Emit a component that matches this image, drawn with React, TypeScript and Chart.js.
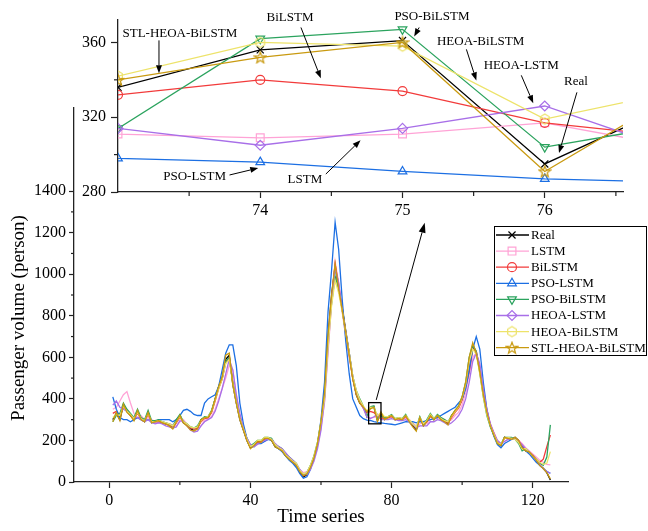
import React, { useEffect, useRef } from 'react';
import { Chart, registerables } from 'chart.js';
import { drawPoint } from 'chart.js/helpers';

Chart.register(...registerables);

const FONT = "'Liberation Serif', 'Times New Roman', Times, serif";

// x categories: time step index 1..125
const timeIndex: number[] = Array.from({ length: 125 }, (_, i) => i + 1);

const seriesNames = ['Real', 'LSTM', 'BiLSTM', 'PSO-LSTM', 'PSO-BiLSTM', 'HEOA-LSTM', 'HEOA-BiLSTM', 'STL-HEOA-BiLSTM'];
const seriesColors = ['#000000', '#FFA3D6', '#F23B3B', '#1C6FE3', '#2BA35E', '#A86FE8', '#EDE36A', '#C99A10'];

const realValues = [
  300, 330, 300, 370, 340, 320, 300, 340, 300, 290,
  335, 285, 290, 295, 285, 280, 275, 260, 290, 320,
  285, 275, 255, 250, 260, 300, 310, 310, 340, 400,
  460, 500, 590, 610, 470, 380, 300, 250, 200, 165,
  175, 195, 190, 210, 210, 200, 170, 160, 150, 125,
  110, 95, 80, 45, 25, 35, 70, 120, 180, 280,
  420, 700, 900, 1040, 930, 840, 730, 620, 500, 420,
  380, 360, 336, 356, 361, 295, 330, 300, 310, 320,
  300, 305, 300, 320, 290, 270, 250, 310, 270, 290,
  320, 300, 320, 300, 290, 280, 320, 340, 360, 400,
  460, 540, 650, 620, 540, 430, 340, 270, 230, 190,
  175, 215, 210, 205, 215, 200, 170, 150, 145, 125,
  105, 80, 65, 45, 10,
];
const lstmValues = [
  350, 360, 390, 420, 435, 380, 330, 310, 320, 300,
  310, 300, 290, 285, 290, 285, 280, 275, 270, 290,
  300, 280, 265, 255, 255, 270, 295, 305, 315, 350,
  400, 450, 500, 560, 540, 420, 320, 260, 210, 180,
  170, 180, 190, 195, 205, 205, 185, 165, 155, 140,
  120, 100, 80, 60, 45, 50, 75, 120, 170, 260,
  380, 620, 860, 1060, 960, 820, 700, 600, 500, 430,
  390, 355, 311, 309, 311, 317, 303, 305, 305, 310,
  305, 300, 305, 305, 300, 285, 270, 280, 285, 280,
  300, 305, 305, 310, 300, 290, 300, 320, 335, 370,
  430, 520, 600, 620, 560, 450, 350, 280, 240, 200,
  185, 195, 205, 210, 205, 200, 185, 165, 150, 135,
  120, 105, 95, 85, 82,
];
const bilstmValues = [
  330, 340, 320, 360, 345, 325, 305, 330, 305, 295,
  325, 290, 290, 290, 285, 280, 275, 265, 285, 310,
  290, 275, 260, 255, 260, 290, 305, 310, 335, 390,
  450, 495, 575, 600, 480, 390, 310, 255, 205, 170,
  175, 190, 195, 205, 210, 205, 180, 165, 150, 130,
  115, 95, 80, 50, 30, 38, 70, 115, 180, 285,
  410, 680, 880, 1050, 950, 830, 720, 610, 500, 425,
  385, 355, 332, 340, 334, 317, 309, 305, 310, 315,
  305, 305, 300, 315, 295, 275, 260, 300, 280, 290,
  315, 305, 315, 305, 295, 285, 310, 335, 355, 395,
  455, 530, 640, 630, 545, 440, 345, 275, 235, 195,
  180, 210, 210, 205, 210, 200, 175, 155, 145, 130,
  110, 95, 110, 170, 226,
];
const psoLstmValues = [
  410, 350, 310, 300, 300, 290, 300, 310, 300, 295,
  300, 295, 290, 300, 300, 300, 300, 290, 300, 320,
  345, 350, 340, 325, 320, 320, 380, 400, 410, 420,
  460, 540, 620, 660, 660, 560, 380, 280, 210, 175,
  170, 185, 185, 195, 205, 200, 175, 160, 145, 125,
  105, 90, 70, 40, 18, 25, 60, 115, 180, 300,
  480, 820, 1020, 1250, 1120, 880, 680, 520, 400, 360,
  320, 305, 298, 296, 291, 287, 285, 282, 280, 278,
  275, 280, 285, 290, 290, 290, 285, 290, 290, 295,
  300, 305, 310, 320, 330, 340, 350, 360, 380, 400,
  450, 540, 640, 700, 640, 480, 350, 270, 220, 180,
  165, 185, 195, 205, 205, 195, 170, 150, 135, 115,
  95, 80, 65, 50, 42,
];
const psoBilstmValues = [
  290, 320, 330, 380, 350, 330, 310, 350, 310, 300,
  345, 295, 295, 300, 290, 285, 280, 270, 300, 325,
  290, 280, 265, 260, 270, 300, 315, 315, 345, 400,
  455, 500, 580, 600, 480, 390, 310, 260, 210, 175,
  185, 200, 200, 215, 215, 210, 180, 170, 160, 135,
  120, 105, 90, 55, 35, 45, 80, 125, 190, 290,
  410, 690, 860, 990, 930, 830, 720, 620, 510, 440,
  400, 365, 314, 362, 367, 304, 317, 310, 315, 325,
  305, 310, 305, 325, 295, 280, 260, 315, 275, 300,
  330, 305, 325, 310, 300, 290, 320, 345, 365, 410,
  480, 600, 660, 630, 525, 410, 320, 265, 225, 185,
  180, 215, 215, 215, 205, 185, 150, 160, 145, 125,
  110, 90, 80, 120, 275,
];
const heoaLstmValues = [
  370, 390, 360, 350, 340, 320, 310, 310, 300, 290,
  300, 285, 280, 285, 280, 270, 265, 260, 265, 295,
  290, 270, 250, 240, 245, 270, 290, 300, 310, 340,
  390, 450, 520, 590, 540, 420, 330, 260, 210, 180,
  170, 185, 190, 200, 205, 205, 185, 170, 160, 140,
  120, 105, 90, 60, 40, 35, 60, 100, 160, 250,
  390, 640, 870, 1030, 960, 830, 720, 620, 510, 435,
  390, 355, 314, 305, 314, 326, 300, 300, 300, 305,
  300, 295, 295, 300, 290, 280, 260, 270, 270, 270,
  290, 290, 300, 295, 285, 275, 285, 300, 320, 350,
  400, 480, 580, 620, 570, 450, 350, 280, 235, 200,
  185, 195, 205, 210, 205, 195, 180, 160, 145, 125,
  105, 85, 65, 50, 42,
];
const heoaBilstmValues = [
  310, 325, 320, 365, 340, 325, 305, 335, 305, 295,
  330, 290, 290, 295, 290, 285, 280, 270, 290, 315,
  290, 280, 265, 260, 265, 295, 310, 315, 340, 395,
  450, 495, 570, 590, 475, 385, 305, 255, 205, 170,
  180, 200, 200, 215, 215, 205, 180, 165, 155, 130,
  115, 100, 90, 55, 40, 45, 80, 125, 190, 290,
  400, 650, 850, 970, 910, 820, 720, 620, 510, 440,
  395, 365, 342, 360, 358, 319, 335, 315, 315, 320,
  305, 310, 305, 320, 300, 280, 265, 310, 280, 295,
  325, 305, 320, 305, 295, 290, 315, 340, 360, 405,
  470, 580, 640, 615, 520, 410, 325, 270, 230, 190,
  180, 210, 215, 210, 205, 190, 160, 160, 145, 125,
  110, 95, 85, 90, 146,
];
const stlHeoaBilstmValues = [
  290, 335, 295, 375, 335, 320, 295, 345, 300, 290,
  335, 285, 290, 295, 285, 280, 270, 255, 290, 320,
  285, 270, 250, 245, 255, 300, 310, 310, 340, 400,
  460, 505, 610, 620, 470, 380, 300, 250, 200, 160,
  175, 195, 190, 210, 210, 200, 170, 160, 150, 125,
  110, 95, 80, 50, 30, 38, 70, 115, 185, 290,
  430, 710, 900, 1050, 930, 830, 720, 610, 495, 420,
  380, 360, 340, 352, 360, 291, 336, 300, 310, 320,
  300, 305, 300, 320, 290, 265, 245, 310, 270, 290,
  320, 300, 320, 300, 290, 275, 320, 345, 365, 410,
  480, 600, 670, 620, 530, 420, 335, 270, 225, 185,
  175, 215, 210, 205, 215, 200, 165, 150, 145, 125,
  105, 80, 65, 45, 15,
];
const seriesValues = [realValues, lstmValues, bilstmValues, psoLstmValues, psoBilstmValues, heoaLstmValues, heoaBilstmValues, stlHeoaBilstmValues];

// axis ticks
const mainXTicks = [0, 40, 80, 120];
const mainXMinor = [20, 60, 100];
const mainYTicks = [0, 200, 400, 600, 800, 1000, 1200, 1400];
const mainYMinor = [100, 300, 500, 700, 900, 1100, 1300];
const insetXTicks = [74, 75, 76];
const insetXMinor = [73.5, 74.5, 75.5, 76.5];
const insetYTicks = [280, 320, 360];
const insetYMinor = [300, 340];

// inset annotations (data coordinates of the inset)
const insetLabels = ['STL-HEOA-BiLSTM', 'BiLSTM', 'PSO-BiLSTM', 'HEOA-BiLSTM', 'HEOA-LSTM', 'Real', 'PSO-LSTM', 'LSTM'];
const insetLabelX = [73.435, 74.209, 75.207, 75.549, 75.835, 76.219, 73.539, 74.314];
const insetLabelY = [364.8, 373.3, 373.9, 360.5, 347.7, 339.2, 288, 286.4];
const arrowFromX = [73.288, 74.286, 75.117, 75.449, 75.835, 76.226, 73.784, 74.461];
const arrowFromY = [361.1, 368, 368, 356.3, 342.4, 333.3, 289.1, 289.6];
const arrowToX = [73.288, 74.426, 75.082, 75.519, 75.919, 76.1, 73.986, 74.705];
const arrowToY = [343.5, 340.8, 363.2, 339.7, 327.5, 300.8, 292.8, 307.7];

// zoom box on main chart
const zoomBoxX = [73.5, 77];
const zoomBoxY = [280, 382];
const pointerFrom = [75.65, 395];
const pointerTo = [89.4, 1248];

function drawArrow(ctx: CanvasRenderingContext2D, x1: number, y1: number, x2: number, y2: number, head = 8, half = 3) {
  const ang = Math.atan2(y2 - y1, x2 - x1);
  const bx = x2 - head * Math.cos(ang);
  const by = y2 - head * Math.sin(ang);
  ctx.beginPath();
  ctx.moveTo(x1, y1);
  ctx.lineTo(bx, by);
  ctx.stroke();
  ctx.beginPath();
  ctx.moveTo(x2, y2);
  ctx.lineTo(bx + half * Math.sin(ang), by - half * Math.cos(ang));
  ctx.lineTo(bx - half * Math.sin(ang), by + half * Math.cos(ang));
  ctx.closePath();
  ctx.fill();
}

function makeShape(kind: 'hex' | 'star', color: string): HTMLCanvasElement {
  const c = document.createElement('canvas');
  c.width = 14;
  c.height = 14;
  const g = c.getContext('2d')!;
  g.strokeStyle = color;
  g.lineWidth = 1.2;
  g.beginPath();
  if (kind === 'hex') {
    for (let i = 0; i < 6; i++) {
      const a = Math.PI / 6 + (i * Math.PI) / 3;
      const x = 7 + 5 * Math.cos(a);
      const y = 7 + 5 * Math.sin(a);
      if (i === 0) g.moveTo(x, y); else g.lineTo(x, y);
    }
  } else {
    for (let i = 0; i < 10; i++) {
      const r = i % 2 === 0 ? 6 : 2.5;
      const a = -Math.PI / 2 + (i * Math.PI) / 5;
      const x = 7 + r * Math.cos(a);
      const y = 7.5 + r * Math.sin(a);
      if (i === 0) g.moveTo(x, y); else g.lineTo(x, y);
    }
  }
  g.closePath();
  g.stroke();
  return c;
}

function filterTicks(list: number[]) {
  return (s: any) => {
    s.ticks = list.map((v) => ({ value: v }));
  };
}

function plainLabel(v: any) {
  return String(v);
}

function drawMinor(chart: any, axis: 'x' | 'y', values: number[], len: number) {
  const ctx = chart.ctx as CanvasRenderingContext2D;
  const area = chart.chartArea;
  const sc = chart.scales[axis];
  ctx.save();
  ctx.strokeStyle = '#222';
  ctx.lineWidth = 1.2;
  values.forEach((v) => {
    const p = sc.getPixelForValue(v);
    ctx.beginPath();
    if (axis === 'x') {
      ctx.moveTo(p, area.bottom);
      ctx.lineTo(p, area.bottom + len);
    } else {
      ctx.moveTo(area.left, p);
      ctx.lineTo(area.left - len, p);
    }
    ctx.stroke();
  });
  ctx.restore();
}

export default function App() {
  const mainRef = useRef<HTMLCanvasElement>(null);
  const insetRef = useRef<HTMLCanvasElement>(null);

  useEffect(() => {
    const hexImg = makeShape('hex', seriesColors[6]);
    const starImg = makeShape('star', seriesColors[7]);
    const pointStyles: any[] = ['crossRot', 'rect', 'circle', 'triangle', 'triangle', 'rectRot', hexImg, starImg];
    const pointRotations = [0, 0, 0, 0, 180, 0, 0, 0];
    const pointRadii = [5, 5.5, 4.5, 5, 5, 5, 6, 6];

    const axisFont = { family: FONT, size: 16 };

    const mainPlugin = {
      id: 'mainDecor',
      afterDraw(chart: any) {
        const ctx = chart.ctx as CanvasRenderingContext2D;
        const xs = chart.scales.x;
        const ys = chart.scales.y;
        drawMinor(chart, 'x', mainXMinor, 3);
        drawMinor(chart, 'y', mainYMinor, 3);
        ctx.save();
        // zoom box
        ctx.strokeStyle = '#000';
        ctx.lineWidth = 1.3;
        const bx1 = xs.getPixelForValue(zoomBoxX[0]);
        const bx2 = xs.getPixelForValue(zoomBoxX[1]);
        const by1 = ys.getPixelForValue(zoomBoxY[1]);
        const by2 = ys.getPixelForValue(zoomBoxY[0]);
        ctx.strokeRect(bx1, by1, bx2 - bx1, by2 - by1);
        ctx.fillStyle = '#000';
        ctx.lineWidth = 1;
        drawArrow(ctx, xs.getPixelForValue(pointerFrom[0]), ys.getPixelForValue(pointerFrom[1]),
          xs.getPixelForValue(pointerTo[0]), ys.getPixelForValue(pointerTo[1]), 10, 3.5);
        // legend
        const lx = 494, ly = 226, lw = 153, lh = 130;
        ctx.fillStyle = '#fff';
        ctx.fillRect(lx, ly, lw, lh);
        ctx.strokeStyle = '#000';
        ctx.lineWidth = 1;
        ctx.strokeRect(lx + 0.5, ly + 0.5, lw - 1, lh - 1);
        seriesNames.forEach((name, i) => {
          const cy = 235 + i * 16.1;
          ctx.strokeStyle = seriesColors[i];
          ctx.lineWidth = 1.3;
          ctx.beginPath();
          ctx.moveTo(496, cy);
          ctx.lineTo(529, cy);
          ctx.stroke();
          ctx.fillStyle = 'rgba(0,0,0,0)';
          ctx.lineWidth = 1.2;
          drawPoint(ctx, { pointStyle: pointStyles[i], radius: pointRadii[i], rotation: pointRotations[i], borderWidth: 1.2 } as any, 512, cy);
          ctx.fillStyle = '#000';
          ctx.font = `13px ${FONT}`;
          ctx.textAlign = 'left';
          ctx.textBaseline = 'middle';
          ctx.fillText(name, 531, cy + 0.5);
        });
        // y title
        ctx.translate(19, 318);
        ctx.rotate(-Math.PI / 2);
        ctx.font = `19px ${FONT}`;
        ctx.textAlign = 'center';
        ctx.textBaseline = 'middle';
        ctx.fillStyle = '#000';
        ctx.fillText('Passenger volume (person)', 0, 0);
        ctx.restore();
      },
    };

    const mainChart = new Chart(mainRef.current!, {
      type: 'line',
      data: {
        datasets: seriesNames.map((name, i) => ({
          label: name,
          data: timeIndex.map((t, k) => ({ x: t, y: seriesValues[i][k] })),
          borderColor: seriesColors[i],
          backgroundColor: seriesColors[i],
          borderWidth: 1.3,
          pointRadius: 0,
          fill: false,
          tension: 0,
          order: seriesNames.length - 1 - i,
        })),
      },
      options: {
        responsive: false,
        animation: false,
        events: [],
        layout: { padding: { left: 0, top: 108, right: 80, bottom: 0 } },
        plugins: { legend: { display: false }, tooltip: { enabled: false } },
        scales: {
          x: {
            type: 'linear',
            min: -10,
            max: 130,
            afterBuildTicks: filterTicks(mainXTicks),
            afterFit: (s: any) => { s.height = 49; },
            ticks: { font: axisFont, color: '#000', padding: 3, maxRotation: 0, autoSkip: false, callback: plainLabel },
            grid: { drawOnChartArea: false, drawTicks: true, tickLength: 6, tickColor: '#222', tickWidth: 1.2 },
            border: { display: true, color: '#222', width: 1.3 },
            title: { display: true, text: 'Time series', font: { family: FONT, size: 19 }, color: '#000', padding: { top: 0, bottom: 3 } },
          },
          y: {
            type: 'linear',
            min: 0,
            max: 1800,
            afterBuildTicks: filterTicks(mainYTicks),
            afterFit: (s: any) => { s.width = 74; },
            ticks: { font: axisFont, color: '#000', padding: 3, autoSkip: false, callback: plainLabel },
            grid: { drawOnChartArea: false, drawTicks: true, tickLength: 5, tickColor: '#222', tickWidth: 1.2 },
            border: { display: true, color: '#222', width: 1.3 },
          },
        },
      } as any,
      plugins: [mainPlugin],
    });

    const insetPlugin = {
      id: 'insetDecor',
      afterDraw(chart: any) {
        const ctx = chart.ctx as CanvasRenderingContext2D;
        const xs = chart.scales.x;
        const ys = chart.scales.y;
        drawMinor(chart, 'x', insetXMinor, 4);
        drawMinor(chart, 'y', insetYMinor, 4);
        ctx.save();
        ctx.fillStyle = '#000';
        ctx.strokeStyle = '#000';
        ctx.lineWidth = 1;
        ctx.font = `13px ${FONT}`;
        ctx.textAlign = 'center';
        ctx.textBaseline = 'middle';
        insetLabels.forEach((t, i) => {
          ctx.fillText(t, xs.getPixelForValue(insetLabelX[i]), ys.getPixelForValue(insetLabelY[i]));
          drawArrow(ctx, xs.getPixelForValue(arrowFromX[i]), ys.getPixelForValue(arrowFromY[i]),
            xs.getPixelForValue(arrowToX[i]), ys.getPixelForValue(arrowToY[i]), 8, 3);
        });
        ctx.restore();
      },
    };

    const insetChart = new Chart(insetRef.current!, {
      type: 'line',
      data: {
        datasets: seriesNames.map((name, i) => ({
          label: name,
          data: timeIndex
            .map((t, k) => ({ x: t, y: seriesValues[i][k] }))
            .filter((p) => p.x >= 72 && p.x <= 78),
          borderColor: seriesColors[i],
          backgroundColor: seriesColors[i],
          borderWidth: 1.3,
          pointStyle: pointStyles[i],
          pointRotation: pointRotations[i],
          pointRadius: pointRadii[i],
          pointBorderWidth: 1.2,
          pointBorderColor: seriesColors[i],
          pointBackgroundColor: 'rgba(0,0,0,0)',
          fill: false,
          tension: 0,
          clip: 0,
          order: seriesNames.length - 1 - i,
        })),
      },
      options: {
        responsive: false,
        animation: false,
        events: [],
        layout: { padding: { left: 0, top: 20, right: 25, bottom: 0 } },
        plugins: { legend: { display: false }, tooltip: { enabled: false } },
        scales: {
          x: {
            type: 'linear',
            min: 73,
            max: 76.55,
            afterBuildTicks: filterTicks(insetXTicks),
            afterFit: (s: any) => { s.height = 39; },
            ticks: { font: axisFont, color: '#000', padding: 3, maxRotation: 0, autoSkip: false, callback: plainLabel },
            grid: { drawOnChartArea: false, drawTicks: true, tickLength: 6, tickColor: '#222', tickWidth: 1.2 },
            border: { display: true, color: '#222', width: 1.3 },
          },
          y: {
            type: 'linear',
            min: 280,
            max: 372,
            afterBuildTicks: filterTicks(insetYTicks),
            afterFit: (s: any) => { s.width = 118; },
            ticks: { font: axisFont, color: '#000', padding: 5, autoSkip: false, callback: plainLabel },
            grid: { drawOnChartArea: false, drawTicks: true, tickLength: 7, tickColor: '#222', tickWidth: 1.2 },
            border: { display: true, color: '#222', width: 1.3 },
          },
        },
      } as any,
      plugins: [insetPlugin],
    });

    return () => {
      mainChart.destroy();
      insetChart.destroy();
    };
  }, []);

  return (
    <div style={{ position: 'fixed', left: 0, top: 0, width: 648, height: 531, background: '#fff', overflow: 'hidden' }}>
      <canvas ref={mainRef} width={648} height={531} style={{ position: 'absolute', left: 0, top: 0, width: 648, height: 531 }} />
      <canvas ref={insetRef} width={648} height={231} style={{ position: 'absolute', left: 0, top: 0, width: 648, height: 231 }} />
    </div>
  );
}
